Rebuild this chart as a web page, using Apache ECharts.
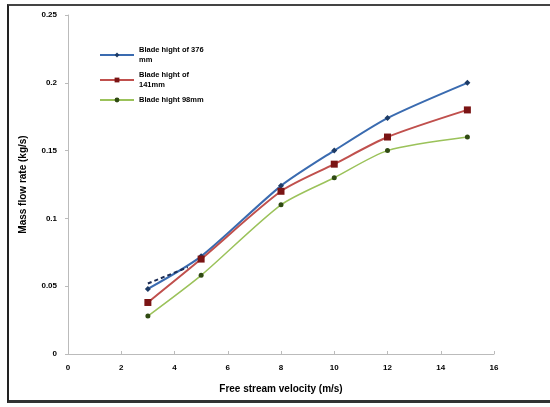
<!DOCTYPE html>
<html>
<head>
<meta charset="utf-8">
<script src="https://cdn.jsdelivr.net/npm/echarts@6/dist/echarts.min.js"></script>
<style>
  html, body { margin: 0; padding: 0; background: #fff; overflow: hidden; }
  #main { width: 550px; height: 407px; }
  #frame {
    position: absolute; left: 7px; top: 4px; width: 560px; height: 394px;
    border-left: 2px solid #222; border-top: 2px solid #444; border-bottom: 3px solid #333;
    pointer-events: none;
  }
</style>
</head>
<body>
<div id="main"></div>
<div id="frame"></div>
<script>
const velocity = [3, 5, 8, 10, 12, 15]
const blade376 = [0.048, 0.072, 0.124, 0.150, 0.174, 0.200]
const blade141 = [0.038, 0.070, 0.120, 0.140, 0.160, 0.180]
const blade98 = [0.028, 0.058, 0.110, 0.130, 0.150, 0.160]
// short dashed stroke visible near the first points
const dashX = [3, 4.5]
const dashY = [0.052, 0.064]
const names = ['Blade hight of 376\nmm', 'Blade hight of\n141mm', 'Blade hight 98mm']

const pair = (xs, ys) => xs.map((x, i) => [x, ys[i]])

const chart = echarts.init(document.getElementById('main'))
const labelFont = { fontFamily: 'Liberation Sans', fontWeight: 'bold', fontSize: 8, color: '#000' }
const titleFont = { fontFamily: 'Liberation Sans', fontWeight: 'bold', fontSize: 10, color: '#000' }

chart.setOption({
  animation: false,
  grid: { left: 68, right: 56, top: 15, bottom: 53 },
  legend: {
    left: 94, top: 40, orient: 'vertical', itemWidth: 34, itemHeight: 6, itemGap: 5,
    textStyle: { fontFamily: 'Liberation Sans', fontWeight: 'bold', fontSize: 7.5, color: '#000', lineHeight: 10 },
    data: names
  },
  xAxis: {
    type: 'value', min: 0, max: 16, interval: 2,
    name: 'Free stream velocity (m/s)', nameLocation: 'middle', nameGap: 30,
    nameTextStyle: titleFont,
    axisLine: { lineStyle: { color: '#bbb' } },
    axisTick: { show: true, inside: true, length: 3, lineStyle: { color: '#bbb' } },
    axisLabel: Object.assign({ margin: 10 }, labelFont),
    splitLine: { show: false }
  },
  yAxis: {
    type: 'value', min: 0, max: 0.25, interval: 0.05,
    name: 'Mass flow rate (kg/s)', nameLocation: 'middle', nameGap: 40, nameRotate: 90,
    nameTextStyle: titleFont,
    axisLine: { show: true, lineStyle: { color: '#bbb' } },
    axisTick: { show: true, length: 3, lineStyle: { color: '#bbb' } },
    axisLabel: Object.assign({ margin: 11 }, labelFont),
    splitLine: { show: false }
  },
  series: [
    {
      name: names[0], type: 'line', smooth: 0.25, data: pair(velocity, blade376),
      symbol: 'diamond', symbolSize: 6,
      lineStyle: { color: '#3a6bb0', width: 2 },
      itemStyle: { color: '#1d3b66' }
    },
    {
      name: names[1], type: 'line', smooth: 0.25, data: pair(velocity, blade141),
      symbol: 'rect', symbolSize: 7,
      lineStyle: { color: '#c0504d', width: 2 },
      itemStyle: { color: '#7a1414' }
    },
    {
      name: names[2], type: 'line', smooth: 0.25, data: pair(velocity, blade98),
      symbol: 'circle', symbolSize: 5,
      lineStyle: { color: '#9bc25a', width: 1.5 },
      itemStyle: { color: '#2f4a12' }
    },
    {
      type: 'line', data: pair(dashX, dashY), symbol: 'none',
      lineStyle: { color: '#1d2d55', width: 2, type: [4, 3] }
    }
  ]
})
</script>
</body>
</html>
